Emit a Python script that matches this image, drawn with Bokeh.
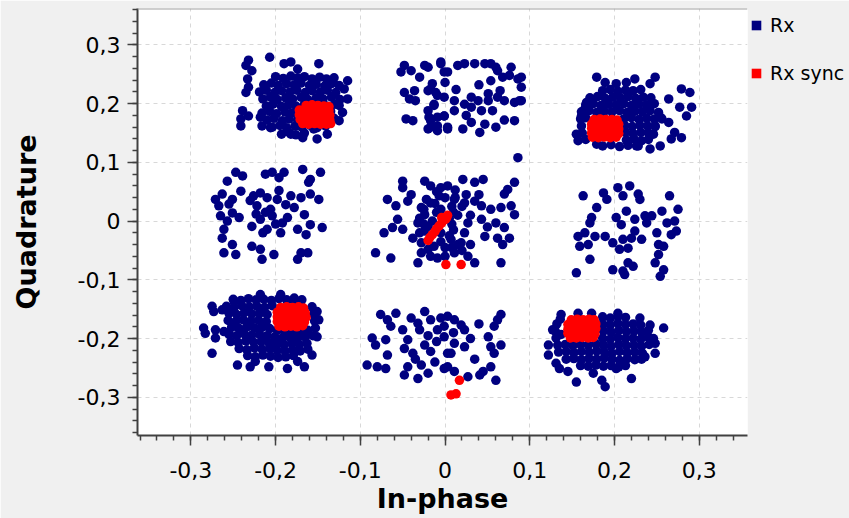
from bokeh.plotting import figure
from bokeh.models import (ColumnDataSource, Legend, LegendItem, SingleIntervalTicker,
                          CustomJSTickFormatter, Range1d, Span)
from bokeh.embed import file_html
from bokeh.resources import INLINE

# ---------------- data (In-phase, Quadrature) ----------------
x_label = "In-phase"
y_label = "Quadrature"
series_names = ["Rx", "Rx sync"]

rx_tl = [
    (-0.232, 0.274), (-0.235, 0.265), (-0.228, 0.256), (-0.207, 0.279), (-0.190, 0.268), (-0.182, 0.271),
    (-0.174, 0.259), (-0.149, 0.268), (-0.233, 0.242), (-0.232, 0.228), (-0.235, 0.219), (-0.239, 0.188),
    (-0.241, 0.174), (-0.241, 0.162), (-0.232, 0.179), (-0.218, 0.177), (-0.216, 0.162), (-0.206, 0.159),
    (-0.115, 0.239), (-0.119, 0.225), (-0.115, 0.208), (-0.125, 0.197), (-0.121, 0.185), (-0.125, 0.171),
    (-0.139, 0.148), (-0.151, 0.140), (-0.168, 0.142), (-0.182, 0.148), (-0.155, 0.157),
    (-0.200, 0.246), (-0.191, 0.243), (-0.182, 0.247), (-0.174, 0.244), (-0.166, 0.246), (-0.157, 0.242),
    (-0.148, 0.245), (-0.140, 0.242), (-0.131, 0.244),
    (-0.214, 0.232), (-0.205, 0.235), (-0.197, 0.231), (-0.187, 0.234), (-0.178, 0.232), (-0.170, 0.235),
    (-0.160, 0.231), (-0.152, 0.233), (-0.142, 0.230), (-0.134, 0.234), (-0.125, 0.231),
    (-0.219, 0.220), (-0.211, 0.223), (-0.201, 0.219), (-0.193, 0.222), (-0.183, 0.220), (-0.175, 0.223),
    (-0.165, 0.219), (-0.157, 0.222), (-0.147, 0.220), (-0.139, 0.223), (-0.129, 0.219),
    (-0.215, 0.208), (-0.206, 0.211), (-0.198, 0.207), (-0.188, 0.210), (-0.180, 0.208), (-0.170, 0.211),
    (-0.162, 0.207), (-0.152, 0.210), (-0.144, 0.208), (-0.134, 0.211), (-0.124, 0.207),
    (-0.211, 0.196), (-0.203, 0.199), (-0.193, 0.195), (-0.185, 0.198), (-0.176, 0.196), (-0.166, 0.199),
    (-0.158, 0.195), (-0.148, 0.198), (-0.140, 0.196), (-0.130, 0.199),
    (-0.216, 0.184), (-0.207, 0.187), (-0.199, 0.183), (-0.189, 0.186), (-0.181, 0.184), (-0.171, 0.187),
    (-0.163, 0.183), (-0.153, 0.186), (-0.145, 0.184), (-0.135, 0.187),
    (-0.210, 0.172), (-0.202, 0.175), (-0.192, 0.171), (-0.184, 0.174), (-0.174, 0.172), (-0.166, 0.175),
    (-0.156, 0.171), (-0.148, 0.174), (-0.138, 0.172), (-0.131, 0.175),
    (-0.204, 0.160), (-0.195, 0.163), (-0.187, 0.159), (-0.177, 0.162), (-0.169, 0.160), (-0.159, 0.163),
    (-0.151, 0.159), (-0.141, 0.162),
    (-0.193, 0.148), (-0.184, 0.151), (-0.176, 0.147), (-0.166, 0.150),
]

rx_tm = [
    (-0.048, 0.265), (-0.040, 0.256), (-0.024, 0.265), (-0.005, 0.271), (-0.001, 0.254), (-0.048, 0.219),
    (-0.042, 0.208), (-0.036, 0.222), (-0.052, 0.254), (-0.017, 0.225), (-0.009, 0.214), (-0.013, 0.197),
    (-0.046, 0.174), (-0.038, 0.171), (-0.019, 0.177), (-0.017, 0.160), (-0.009, 0.162), (-0.001, 0.179),
    (0.003, 0.157), (-0.020, 0.262), (-0.005, 0.268), (0.003, 0.254), (0.015, 0.265), (0.023, 0.268),
    (0.035, 0.268), (0.047, 0.268), (0.054, 0.268), (0.062, 0.256), (0.054, 0.239), (0.068, 0.245),
    (0.076, 0.248), (0.086, 0.242), (0.090, 0.245), (0.090, 0.228), (0.088, 0.205), (0.082, 0.202),
    (0.070, 0.205), (0.062, 0.211), (0.051, 0.217), (0.039, 0.205), (0.031, 0.211), (0.023, 0.199),
    (0.011, 0.205), (-0.001, 0.211), (-0.011, 0.219), (-0.013, 0.199), (-0.015, 0.234), (-0.020, 0.222),
    (-0.020, 0.188), (-0.017, 0.171), (-0.009, 0.177), (-0.001, 0.179), (0.003, 0.160), (-0.009, 0.154),
    (-0.020, 0.157), (0.021, 0.157), (0.031, 0.168), (0.041, 0.151), (0.047, 0.165), (0.082, 0.171),
    (0.086, 0.108), (0.051, 0.205), (0.056, 0.188), (0.043, 0.188), (0.031, 0.194), (0.011, 0.188),
    (0.090, 0.205), (0.060, 0.262), (0.078, 0.262), (-0.030, 0.245), (-0.035, 0.205), (0.000, 0.236),
    (0.040, 0.232), (0.065, 0.222), (0.013, 0.224), (0.025, 0.180), (0.070, 0.172), (0.060, 0.160),
]

rx_tr = [
    (0.179, 0.245), (0.189, 0.236), (0.202, 0.234), (0.214, 0.236), (0.224, 0.242), (0.248, 0.245),
    (0.242, 0.234), (0.279, 0.225), (0.289, 0.219), (0.264, 0.208), (0.291, 0.194), (0.277, 0.194),
    (0.285, 0.179), (0.271, 0.151), (0.279, 0.142), (0.267, 0.140), (0.254, 0.128), (0.242, 0.123),
    (0.228, 0.128), (0.179, 0.131), (0.157, 0.137), (0.155, 0.148), (0.161, 0.179), (0.167, 0.202),
    (0.165, 0.191), (0.256, 0.174), (0.248, 0.162), (0.264, 0.168),
    (0.186, 0.222), (0.195, 0.224), (0.204, 0.221), (0.213, 0.223), (0.222, 0.222), (0.231, 0.224),
    (0.171, 0.210), (0.180, 0.212), (0.189, 0.209), (0.198, 0.211), (0.207, 0.210), (0.216, 0.212),
    (0.225, 0.209), (0.234, 0.211), (0.243, 0.210),
    (0.166, 0.198), (0.175, 0.200), (0.184, 0.197), (0.193, 0.199), (0.202, 0.198), (0.211, 0.200),
    (0.220, 0.197), (0.229, 0.199), (0.238, 0.198), (0.247, 0.200),
    (0.161, 0.186), (0.170, 0.188), (0.179, 0.185), (0.188, 0.187), (0.197, 0.186), (0.206, 0.188),
    (0.215, 0.185), (0.224, 0.187), (0.233, 0.186), (0.242, 0.188), (0.252, 0.185),
    (0.160, 0.174), (0.166, 0.176), (0.211, 0.174), (0.220, 0.176), (0.229, 0.173), (0.238, 0.175),
    (0.247, 0.174), (0.255, 0.176),
    (0.161, 0.162), (0.212, 0.163), (0.221, 0.161), (0.230, 0.163), (0.239, 0.162), (0.248, 0.161),
    (0.162, 0.150), (0.213, 0.151), (0.222, 0.149), (0.231, 0.151), (0.240, 0.150), (0.246, 0.148),
    (0.166, 0.139), (0.214, 0.138), (0.223, 0.140), (0.232, 0.137), (0.240, 0.139),
    (0.186, 0.128), (0.196, 0.130), (0.206, 0.127), (0.216, 0.129), (0.226, 0.128),
]

rx_ml = [
    (-0.247, 0.083), (-0.239, 0.077), (-0.257, 0.068), (-0.212, 0.080), (-0.204, 0.083), (-0.190, 0.083),
    (-0.196, 0.074), (-0.168, 0.088), (-0.147, 0.083), (-0.159, 0.071), (-0.161, 0.066), (-0.241, 0.051),
    (-0.271, 0.037), (-0.263, 0.046), (-0.267, 0.026), (-0.265, 0.009), (-0.257, 0.000), (-0.251, 0.014),
    (-0.243, 0.006), (-0.261, -0.014), (-0.263, -0.029), (-0.251, -0.040), (-0.261, -0.054), (-0.247, -0.057),
    (-0.228, -0.043), (-0.218, -0.048), (-0.216, -0.065), (-0.202, -0.057), (-0.170, -0.054), (-0.174, -0.065),
    (-0.162, -0.054), (-0.226, 0.043), (-0.218, 0.048), (-0.210, 0.040), (-0.222, 0.026), (-0.198, 0.037),
    (-0.182, 0.043), (-0.170, 0.040), (-0.159, 0.046), (-0.149, 0.037), (-0.178, 0.023), (-0.166, 0.011),
    (-0.228, -0.009), (-0.218, 0.003), (-0.210, -0.014), (-0.204, 0.009), (-0.192, -0.003), (-0.194, -0.020),
    (-0.206, 0.020), (-0.174, -0.014), (-0.164, -0.023), (-0.159, -0.006), (-0.145, -0.011), (-0.251, 0.037),
    (-0.255, 0.029), (-0.188, 0.028), (-0.212, 0.015), (-0.200, -0.005), (-0.223, 0.012), (-0.186, 0.006),
    (-0.215, -0.020), (-0.230, 0.035), (-0.196, 0.052),
]

rx_c = [
    (-0.050, 0.068), (-0.050, 0.057), (-0.068, 0.037), (-0.058, 0.026), (-0.044, 0.034), (-0.056, 0.003),
    (-0.062, -0.011), (-0.072, -0.020), (-0.050, -0.014), (-0.082, -0.054), (-0.064, -0.063), (-0.028, -0.054),
    (-0.032, -0.071), (-0.017, -0.060), (-0.009, -0.063), (-0.024, 0.068), (-0.017, 0.060), (-0.005, 0.057),
    (-0.022, 0.037), (-0.028, 0.023), (-0.024, 0.011), (-0.017, 0.031), (-0.007, 0.043), (-0.038, -0.029),
    (-0.028, -0.037), (-0.024, -0.017), (-0.032, -0.003), (-0.020, -0.009), (-0.013, -0.043),
    (0.003, 0.060), (0.021, 0.071), (0.035, 0.066), (0.045, 0.071), (0.082, 0.066), (0.074, 0.054),
    (0.070, 0.046), (0.011, 0.037), (0.023, 0.031), (0.035, 0.034), (0.043, 0.026), (0.054, 0.020),
    (0.066, 0.023), (0.078, 0.026), (0.082, 0.011), (0.060, -0.003), (0.070, -0.011), (0.062, -0.029),
    (0.076, -0.029), (0.068, -0.040), (0.047, -0.026), (0.027, -0.003), (0.023, -0.020), (0.019, -0.037),
    (0.011, -0.054), (0.027, -0.060), (0.035, -0.071), (0.066, -0.071), (0.043, 0.003), (0.007, -0.031),
    (0.000, 0.040), (0.008, 0.025), (-0.010, 0.015), (0.005, 0.005), (0.015, 0.010), (-0.005, -0.020),
    (0.010, -0.015), (0.000, -0.045), (-0.015, 0.000), (0.015, -0.040), (0.030, 0.010), (0.030, -0.040),
    (0.050, -0.010), (-0.040, 0.045), (-0.010, 0.050), (0.040, 0.045), (0.012, 0.053), (0.000, -0.060),
    (0.020, -0.050), (-0.025, 0.020), (-0.030, 0.005), (-0.012, 0.030), (-0.005, 0.020), (0.008, -0.005),
    (0.010, 0.015), (-0.025, -0.005), (0.005, -0.025), (-0.005, -0.035), (-0.030, -0.020), (0.012, 0.040),
    (0.020, 0.025), (0.025, 0.045), (0.008, -0.045), (-0.020, -0.048),
]

rx_mr = [
    (0.163, 0.043), (0.187, 0.048), (0.191, 0.037), (0.204, 0.057), (0.218, 0.060), (0.210, 0.043),
    (0.228, 0.046), (0.230, 0.037), (0.265, 0.043), (0.179, 0.023), (0.173, 0.006), (0.171, -0.003),
    (0.214, 0.017), (0.202, 0.006), (0.208, -0.006), (0.224, 0.003), (0.236, 0.009), (0.244, 0.009),
    (0.256, 0.017), (0.275, 0.020), (0.271, 0.000), (0.262, -0.003), (0.267, -0.023), (0.273, -0.017),
    (0.157, -0.026), (0.165, -0.020), (0.177, -0.026), (0.189, -0.026), (0.159, -0.043), (0.169, -0.040),
    (0.198, -0.037), (0.210, -0.031), (0.220, -0.029), (0.232, -0.031), (0.206, -0.048), (0.216, -0.046),
    (0.252, -0.040), (0.258, -0.043), (0.252, -0.057), (0.171, -0.065), (0.198, -0.083), (0.210, -0.085),
    (0.216, -0.071), (0.222, -0.077), (0.248, -0.071), (0.258, -0.083), (0.254, -0.094), (0.155, -0.088),
    (0.212, -0.091), (0.238, -0.003), (0.250, -0.020), (0.224, -0.017),
]

rx_bl = [
    (-0.275, -0.145), (-0.273, -0.154), (-0.263, -0.151), (-0.285, -0.182), (-0.283, -0.191), (-0.271, -0.185),
    (-0.271, -0.199), (-0.261, -0.188), (-0.275, -0.225), (-0.245, -0.245), (-0.230, -0.248), (-0.224, -0.239),
    (-0.208, -0.248), (-0.186, -0.251), (-0.174, -0.239), (-0.166, -0.248), (-0.157, -0.228), (-0.151, -0.197),
    (-0.149, -0.168), (-0.151, -0.154), (-0.218, -0.125), (-0.194, -0.125), (-0.178, -0.131), (-0.249, -0.137),
    (-0.250, -0.133), (-0.241, -0.135), (-0.232, -0.132), (-0.223, -0.134), (-0.214, -0.133), (-0.205, -0.135),
    (-0.196, -0.132), (-0.187, -0.134), (-0.178, -0.136), (-0.169, -0.134),
    (-0.258, -0.145), (-0.249, -0.147), (-0.240, -0.144), (-0.231, -0.146), (-0.222, -0.145), (-0.213, -0.147),
    (-0.204, -0.144), (-0.157, -0.146),
    (-0.255, -0.157), (-0.246, -0.159), (-0.237, -0.156), (-0.228, -0.158), (-0.219, -0.157), (-0.210, -0.159),
    (-0.155, -0.158),
    (-0.256, -0.169), (-0.247, -0.171), (-0.238, -0.168), (-0.229, -0.170), (-0.220, -0.169), (-0.211, -0.171),
    (-0.154, -0.170),
    (-0.252, -0.181), (-0.243, -0.183), (-0.234, -0.180), (-0.225, -0.182), (-0.216, -0.181), (-0.207, -0.183),
    (-0.198, -0.186), (-0.189, -0.188), (-0.180, -0.187), (-0.171, -0.188), (-0.162, -0.186), (-0.153, -0.182),
    (-0.255, -0.193), (-0.246, -0.195), (-0.237, -0.192), (-0.228, -0.194), (-0.219, -0.193), (-0.210, -0.195),
    (-0.201, -0.197), (-0.192, -0.199), (-0.183, -0.198), (-0.174, -0.199), (-0.165, -0.197), (-0.156, -0.195),
    (-0.253, -0.205), (-0.244, -0.207), (-0.235, -0.204), (-0.226, -0.206), (-0.217, -0.205), (-0.208, -0.207),
    (-0.199, -0.209), (-0.190, -0.210), (-0.181, -0.208), (-0.172, -0.210), (-0.163, -0.208),
    (-0.243, -0.217), (-0.234, -0.219), (-0.225, -0.216), (-0.216, -0.218), (-0.207, -0.217), (-0.198, -0.220),
    (-0.189, -0.221), (-0.180, -0.219), (-0.171, -0.221), (-0.162, -0.218),
    (-0.233, -0.229), (-0.224, -0.231), (-0.215, -0.228), (-0.206, -0.230), (-0.197, -0.232), (-0.188, -0.231),
    (-0.179, -0.229),
]

rx_bm = [
    (-0.076, -0.159), (-0.068, -0.168), (-0.058, -0.157), (-0.064, -0.179), (-0.086, -0.199), (-0.082, -0.211),
    (-0.070, -0.202), (-0.068, -0.228), (-0.092, -0.245), (-0.080, -0.248), (-0.070, -0.251), (-0.040, -0.165),
    (-0.024, -0.154), (-0.032, -0.174), (-0.017, -0.168), (-0.005, -0.165), (-0.001, -0.197), (-0.044, -0.202),
    (-0.048, -0.217), (-0.038, -0.225), (-0.024, -0.211), (-0.017, -0.222), (-0.028, -0.245), (-0.020, -0.259),
    (-0.044, -0.248), (-0.048, -0.262), (-0.032, -0.268), (-0.001, -0.251), (0.003, -0.225), (-0.009, -0.185),
    (0.003, -0.162), (0.011, -0.168), (0.019, -0.177), (0.011, -0.208), (0.023, -0.214), (0.007, -0.225),
    (0.003, -0.248), (0.011, -0.256), (0.027, -0.265), (0.041, -0.262), (0.045, -0.256), (0.054, -0.248),
    (0.058, -0.225), (0.066, -0.211), (0.054, -0.214), (0.051, -0.197), (0.058, -0.179), (0.066, -0.159),
    (0.062, -0.168), (0.060, -0.271), (0.023, -0.185), (-0.001, -0.179),
    (-0.030, -0.185), (-0.020, -0.195), (-0.010, -0.205), (-0.035, -0.235), (-0.012, -0.240), (0.030, -0.200),
    (0.035, -0.235), (-0.050, -0.185), (0.040, -0.175), (0.010, -0.190),
]

rx_br = [
    (0.137, -0.159), (0.157, -0.157), (0.173, -0.157), (0.204, -0.157), (0.230, -0.165), (0.242, -0.177),
    (0.258, -0.182), (0.248, -0.208), (0.248, -0.225), (0.236, -0.231), (0.122, -0.211), (0.122, -0.228),
    (0.131, -0.242), (0.135, -0.251), (0.145, -0.256), (0.155, -0.274), (0.175, -0.259), (0.185, -0.271),
    (0.189, -0.282), (0.202, -0.251), (0.220, -0.268), (0.127, -0.185), (0.136, -0.167), (0.137, -0.193),
    (0.186, -0.163), (0.195, -0.165), (0.204, -0.162), (0.213, -0.164),
    (0.132, -0.175), (0.186, -0.175), (0.195, -0.177), (0.204, -0.174), (0.213, -0.176), (0.222, -0.175),
    (0.231, -0.177),
    (0.130, -0.187), (0.187, -0.187), (0.196, -0.189), (0.205, -0.186), (0.214, -0.188), (0.223, -0.187),
    (0.232, -0.189), (0.240, -0.186),
    (0.131, -0.199), (0.186, -0.199), (0.195, -0.201), (0.204, -0.198), (0.213, -0.200), (0.222, -0.199),
    (0.231, -0.201), (0.240, -0.198), (0.246, -0.200),
    (0.133, -0.211), (0.142, -0.210), (0.151, -0.212), (0.160, -0.210), (0.169, -0.211), (0.178, -0.209),
    (0.187, -0.211), (0.196, -0.213), (0.205, -0.210), (0.214, -0.212), (0.223, -0.211), (0.232, -0.213),
    (0.241, -0.210),
    (0.134, -0.223), (0.143, -0.222), (0.152, -0.224), (0.161, -0.222), (0.170, -0.223), (0.179, -0.221),
    (0.188, -0.223), (0.197, -0.225), (0.206, -0.222), (0.215, -0.224), (0.224, -0.223), (0.233, -0.225),
    (0.143, -0.235), (0.152, -0.234), (0.161, -0.236), (0.170, -0.234), (0.179, -0.235), (0.188, -0.233),
    (0.197, -0.235), (0.206, -0.237), (0.215, -0.234), (0.224, -0.236), (0.232, -0.235),
    (0.160, -0.246), (0.169, -0.247), (0.178, -0.245), (0.187, -0.247), (0.196, -0.246), (0.205, -0.248),
    (0.213, -0.246),
]

sync_tl = [
    (-0.164, 0.197), (-0.157, 0.198), (-0.150, 0.197), (-0.143, 0.196), (-0.137, 0.195),
    (-0.172, 0.189), (-0.165, 0.190), (-0.158, 0.189), (-0.151, 0.190), (-0.144, 0.189), (-0.137, 0.188),
    (-0.172, 0.181), (-0.165, 0.181), (-0.158, 0.182), (-0.151, 0.181), (-0.144, 0.181), (-0.136, 0.180),
    (-0.171, 0.173), (-0.164, 0.173), (-0.157, 0.174), (-0.150, 0.173), (-0.143, 0.173), (-0.136, 0.172),
    (-0.168, 0.166), (-0.161, 0.165), (-0.154, 0.166), (-0.147, 0.165), (-0.140, 0.165), (-0.135, 0.166),
]

sync_tr = [
    (0.176, 0.173), (0.183, 0.174), (0.190, 0.173), (0.197, 0.173), (0.203, 0.172),
    (0.173, 0.165), (0.180, 0.166), (0.187, 0.165), (0.194, 0.166), (0.201, 0.165), (0.205, 0.165),
    (0.173, 0.158), (0.180, 0.157), (0.187, 0.158), (0.194, 0.157), (0.201, 0.158), (0.205, 0.157),
    (0.173, 0.150), (0.180, 0.150), (0.187, 0.151), (0.194, 0.150), (0.201, 0.150), (0.205, 0.149),
    (0.174, 0.143), (0.181, 0.142), (0.188, 0.143), (0.195, 0.142), (0.202, 0.143),
]

sync_c = [
    (-0.020, -0.033), (-0.018, -0.028), (-0.015, -0.023), (-0.012, -0.018), (-0.010, -0.013),
    (-0.007, -0.008), (-0.004, -0.003), (-0.001, 0.002), (0.002, 0.006), (0.003, 0.010),
    (0.001, 0.004), (-0.004, 0.006),
    (0.001, -0.074), (0.019, -0.074), (0.017, -0.271), (0.007, -0.296), (0.013, -0.294),
]

sync_bl = [
    (-0.194, -0.147), (-0.187, -0.146), (-0.180, -0.147), (-0.173, -0.146), (-0.167, -0.148),
    (-0.198, -0.155), (-0.191, -0.154), (-0.184, -0.155), (-0.177, -0.154), (-0.170, -0.155), (-0.165, -0.156),
    (-0.198, -0.163), (-0.191, -0.163), (-0.184, -0.162), (-0.177, -0.163), (-0.170, -0.163), (-0.164, -0.164),
    (-0.198, -0.171), (-0.191, -0.171), (-0.184, -0.172), (-0.177, -0.171), (-0.170, -0.171), (-0.166, -0.172),
    (-0.196, -0.179), (-0.189, -0.180), (-0.182, -0.179), (-0.175, -0.180), (-0.168, -0.178),
]

sync_br = [
    (0.149, -0.168), (0.156, -0.167), (0.163, -0.168), (0.170, -0.167), (0.176, -0.168),
    (0.145, -0.176), (0.152, -0.176), (0.159, -0.175), (0.166, -0.176), (0.173, -0.176), (0.178, -0.175),
    (0.145, -0.184), (0.152, -0.184), (0.159, -0.183), (0.166, -0.184), (0.173, -0.184), (0.178, -0.183),
    (0.145, -0.191), (0.152, -0.192), (0.159, -0.191), (0.166, -0.192), (0.173, -0.191), (0.177, -0.192),
    (0.148, -0.199), (0.155, -0.199), (0.162, -0.198), (0.169, -0.199), (0.175, -0.198),
]

rx_points = rx_tl + rx_tm + rx_tr + rx_ml + rx_c + rx_mr + rx_bl + rx_bm + rx_br
sync_points = sync_tl + sync_tr + sync_c + sync_bl + sync_br

rx_src = ColumnDataSource(data=dict(i=[p_[0] for p_ in rx_points], q=[p_[1] for p_ in rx_points]))
sync_src = ColumnDataSource(data=dict(i=[p_[0] for p_ in sync_points], q=[p_[1] for p_ in sync_points]))

NAVY = "#000080"
RED = "#ff0000"
BG = "#f0f0f0"
FONT = "DejaVu Sans"

p = figure(frame_width=610, frame_height=427,
           min_border_left=137, min_border_right=102, min_border_top=8, min_border_bottom=83,
           x_range=Range1d(-0.363, 0.357), y_range=Range1d(-0.365, 0.362),
           output_backend="svg", toolbar_location=None,
           border_fill_color=BG, background_fill_color="white", outline_line_color=None)

p.scatter("i", "q", source=rx_src, size=9.5, marker="circle", fill_color=NAVY, line_color=None)
p.scatter("i", "q", source=sync_src, size=9.5, marker="circle", fill_color=RED, line_color=None)

# legend swatches: zero-size rects on the same data, only their square legend glyph shows
leg_rx = p.rect("i", "q", source=rx_src, width=0, height=0, fill_color=NAVY, line_color=None)
leg_sync = p.rect("i", "q", source=sync_src, width=0, height=0, fill_color=RED, line_color=None)

legend = Legend(items=[LegendItem(label=series_names[0], renderers=[leg_rx]),
                       LegendItem(label=series_names[1], renderers=[leg_sync])],
                location=(3, 350), orientation="vertical", padding=0, margin=0, spacing=24,
                glyph_width=12, glyph_height=12, label_height=24, label_standoff=8,
                label_text_font=FONT, label_text_font_size="19px", label_text_color="#000000",
                background_fill_alpha=0, border_line_color=None)
p.add_layout(legend, "right")

fmt = CustomJSTickFormatter(code="""
    const v = Math.abs(tick) < 1e-9 ? 0 : tick;
    if (v === 0) { return "0"; }
    return v.toFixed(1).replace(".", ",");
""")

for ax in (p.xaxis[0], p.yaxis[0]):
    ax.ticker = SingleIntervalTicker(interval=0.1, num_minor_ticks=5)
    ax.formatter = fmt
    ax.major_tick_out = 10
    ax.major_tick_in = 0
    ax.minor_tick_out = 5
    ax.minor_tick_in = 0
    ax.axis_line_color = "#404040"
    ax.axis_line_width = 2
    ax.major_tick_line_color = "#404040"
    ax.minor_tick_line_color = "#404040"
    ax.major_tick_line_width = 1.5
    ax.minor_tick_line_width = 1.5
    ax.major_label_text_font = FONT
    ax.major_label_text_font_size = "22px"
    ax.major_label_text_color = "#000000"
    ax.axis_label_text_font = FONT
    ax.axis_label_text_font_size = "27px"
    ax.axis_label_text_font_style = "bold"
    ax.axis_label_text_color = "#000000"

p.xaxis.axis_label = x_label
p.yaxis.axis_label = y_label
p.xaxis.major_label_standoff = 16
p.yaxis.major_label_standoff = 7
p.xaxis.axis_label_standoff = 2
p.yaxis.axis_label_standoff = 33

p.xgrid.grid_line_color = "#d8d8d8"
p.ygrid.grid_line_color = "#d8d8d8"
p.xgrid.grid_line_dash = "4 4"
p.ygrid.grid_line_dash = "4 4"

p.add_layout(Span(location=0.362, dimension="width", line_color="#a0a0a0", line_width=2))

open("out.html", "w").write(file_html(p, INLINE))
